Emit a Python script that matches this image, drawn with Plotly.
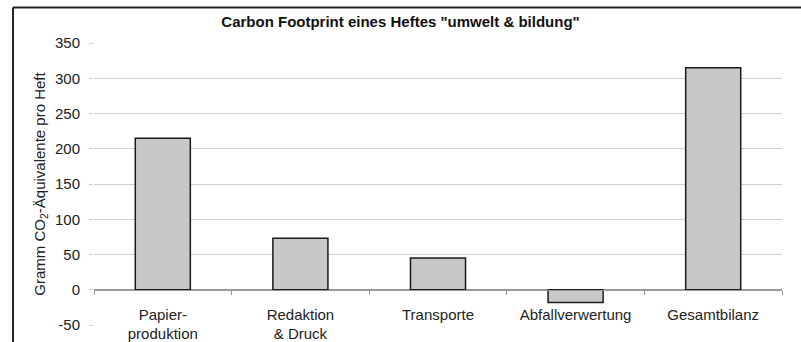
import plotly.graph_objects as go

categories = ["Papier-<br>produktion", "Redaktion<br>& Druck", "Transporte", "Abfallverwertung", "Gesamtbilanz"]
values = [215, 73, 45, -18, 315]
y_ticks = [-50, 0, 50, 100, 150, 200, 250, 300, 350]
y_tick_labels = [str(v) for v in y_ticks]
Y_MIN, Y_MAX = -50, 350

title_text = 'Carbon Footprint eines Heftes "umwelt & bildung"'
y_title = "Gramm CO<sub>2</sub>-Äquivalente pro Heft"

FONT = "Liberation Sans, Arial, sans-serif"

fig = go.Figure(
    go.Bar(
        x=categories,
        y=values,
        width=0.4,
        marker=dict(color="#c8c8c8", line=dict(color="#1a1a1a", width=1.5)),
    )
)

zero_pos = (0 - Y_MIN) / (Y_MAX - Y_MIN)

fig.update_layout(
    width=801,
    height=342,
    margin=dict(l=94, r=19, t=43, b=17, autoexpand=False),
    paper_bgcolor="white",
    plot_bgcolor="white",
    showlegend=False,
    font=dict(family=FONT, size=15, color="#222"),
    title=dict(
        text=title_text,
        font=dict(family=FONT, size=15, color="#111", weight="bold"),
        x=0.5, xref="container", xanchor="center",
        y=1 - 22 / 342, yref="container", yanchor="middle",
    ),
    xaxis=dict(
        anchor="free",
        position=zero_pos,
        automargin=False,
        showline=True,
        linecolor="#999",
        linewidth=1,
        ticks="outside",
        tickson="boundaries",
        ticklen=4,
        tickcolor="#999",
        showgrid=False,
        ticklabelstandoff=11,
        tickfont=dict(family=FONT, size=15, color="#222"),
    ),
    yaxis=dict(
        range=[Y_MIN, Y_MAX],
        tickvals=y_ticks,
        ticktext=y_tick_labels,
        automargin=False,
        showgrid=True,
        gridcolor="#d0d0d0",
        gridwidth=1,
        zeroline=True,
        zerolinecolor="#999",
        showline=False,
        ticks="outside",
        ticklen=4,
        tickcolor="#d0d0d0",
        ticklabelstandoff=6,
        tickfont=dict(family=FONT, size=15, color="#222"),
        title=dict(text=y_title, font=dict(family=FONT, size=15, color="#222"), standoff=5),
    ),
    shapes=[
        dict(type="line", xref="paper", yref="paper", x0=-0.1177, x1=1.1, y0=1.1259, y1=1.1259,
             line=dict(color="#222", width=2)),
        dict(type="line", xref="paper", yref="paper", x0=-0.1177, x1=-0.1177, y0=1.1259, y1=-0.2,
             line=dict(color="#222", width=2)),
    ],
)

fig.write_html("out.html")
